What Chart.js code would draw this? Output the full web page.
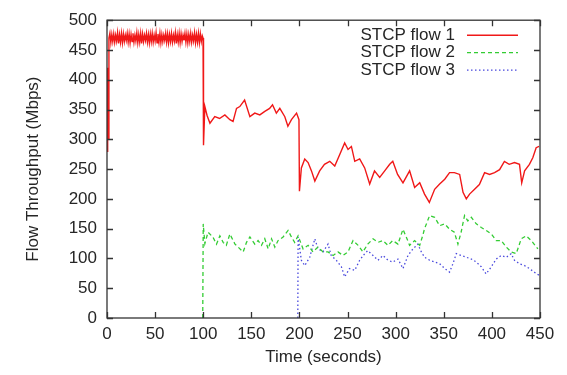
<!DOCTYPE html>
<html>
<head>
<meta charset="utf-8">
<script src="https://cdn.jsdelivr.net/npm/chart.js@4.4.1/dist/chart.umd.min.js"></script>
<style>
  html, body { margin: 0; padding: 0; background: #fff; }
  #wrap { width: 567px; height: 375px; }
</style>
</head>
<body>
<div id="wrap"><canvas id="grafico" width="567" height="375"></canvas></div>
<script>
'use strict';

// Ejes
const TIEMPO_MIN = 0, TIEMPO_MAX = 450, TIEMPO_PASO = 50;
const MBPS_MIN = 0, MBPS_MAX = 500, MBPS_PASO = 50;

const ETIQUETAS = ['STCP flow 1', 'STCP flow 2', 'STCP flow 3'];

// Flujo 1 (rojo): arranque, meseta oscilante (3..99 s) y resto
const flujo1Tiempo = [
    0, 0.7, 1.2, 2,
    3, 4, 5, 6, 7, 8, 9, 10, 11, 12, 13, 14, 15, 16, 17, 18, 19, 20, 21, 22, 23, 24, 25, 26, 27, 28,
    29, 30, 31, 32, 33, 34, 35, 36, 37, 38, 39, 40, 41, 42, 43, 44, 45, 46, 47, 48, 49, 50, 51, 52,
    53, 54, 55, 56, 57, 58, 59, 60, 61, 62, 63, 64, 65, 66, 67, 68, 69, 70, 71, 72, 73, 74, 75, 76,
    77, 78, 79, 80, 81, 82, 83, 84, 85, 86, 87, 88, 89, 90, 91, 92, 93, 94, 95, 96, 97, 98, 99,
    99.8, 100.3, 101.7, 104, 107, 112, 117, 122.5, 127.7, 131, 134.6, 138, 143, 148.5, 153.6, 158.8,
    164, 169, 172, 176, 179.6, 184.8, 188, 191.7, 197, 199.5, 200, 202, 205.5, 209, 212.5, 216, 221,
    226, 231.5, 236.7, 242, 247, 250.5, 254, 257.5, 262.6, 267.8, 273, 278, 283.4, 288.6, 293.8, 297,
    302, 307.6, 314.5, 319.7, 325, 330, 335, 340.5, 345.7, 351, 356, 361, 366.5, 370, 373.4, 376.8,
    382, 387, 392.4, 397.6, 402.8, 408, 413, 418, 423.5, 428.7, 431, 434, 439, 442.5, 446, 449
];
const flujo1Mbps = [
    280, 420, 300, 470,
    478, 462, 476, 464, 477, 463, 475, 465, 479, 461,
    476, 463, 478, 462, 477, 464, 475, 466, 478, 463,
    477, 462, 476, 464, 478, 463, 475, 465, 479, 462,
    476, 463, 478, 461, 477, 464, 475, 466, 478, 463,
    476, 462, 477, 464, 478, 463, 475, 465, 479, 462,
    477, 463, 478, 462, 476, 464, 475, 466, 478, 463,
    477, 462, 476, 464, 478, 463, 475, 465, 479, 461,
    476, 463, 478, 462, 477, 464, 475, 466, 478, 463,
    477, 462, 476, 464, 478, 463, 475, 465, 479, 462,
    476, 463, 478, 462, 477, 464, 474,
    470, 290, 355, 340, 327, 338, 335, 341, 333, 330, 352, 355, 366, 338, 344, 341,
    347, 352, 358, 344, 352, 338, 322, 333, 344, 333, 213, 252, 267, 261, 247, 230, 247,
    258, 263, 255, 275, 294, 283, 288, 263, 267, 252, 225, 247, 236, 247, 258, 263,
    241, 227, 247, 219, 227, 208, 194, 216, 225, 233, 244, 244, 241, 211, 200, 208,
    216, 224, 244, 241, 244, 249, 263, 258, 261, 258, 227, 247, 258, 269, 286, 288
];

// Flujo 2 (verde)
const flujo2Tiempo = [
    99.5, 100, 101.7, 105, 110, 113.8, 117.3, 120.7, 124, 127.7, 133, 136.3, 141.5, 145, 148.5,
    153.6, 157, 160.6, 164, 167.5, 171, 174.4, 177.8, 183, 188.2, 191.7, 195, 198.6, 203.8, 209,
    214, 219.3, 224.5, 229.7, 235, 240, 245.3, 250.5, 255.7, 261, 266, 271, 276.5, 281.6, 286.8,
    292, 297, 302.4, 307.6, 311, 314.5, 319.7, 325, 328.4, 330, 335.3, 340.5, 345.7, 351, 356,
    361, 364.7, 368, 371.6, 375, 378.6, 383.8, 389, 394, 399.4, 404.5, 409.7, 415, 420, 425.3,
    430.5, 435.7, 440.9, 447.8
];
const flujo2Mbps = [
    0, 158, 125, 144, 136, 124, 138, 127, 122, 141, 124, 119, 111, 127, 136,
    124, 130, 122, 133, 116, 133, 119, 130, 136, 147, 136, 127, 138, 116, 122,
    111, 119, 111, 111, 105, 111, 105, 111, 130, 122, 111, 124, 133, 127, 130,
    122, 130, 124, 149, 136, 122, 130, 122, 140, 150, 172, 169, 155, 158, 149,
    144, 124, 144, 172, 163, 169, 158, 152, 147, 141, 130, 130, 119, 111, 108,
    133, 138, 130, 116
];

// Flujo 3 (azul)
const flujo3Tiempo = [
    198.3, 198.6, 202, 205.5, 210.7, 216, 219.3, 224.5, 229.7, 233, 238.3, 243.6, 247, 252, 257.5,
    262.6, 267.8, 271, 276.5, 281.6, 286.8, 292, 297, 302.4, 307.6, 312.8, 318, 323, 326.7, 330,
    335.3, 340.5, 345.7, 351, 356, 359.5, 363, 368, 373.4, 378.6, 383.8, 389, 394, 399.4, 404.5,
    409.7, 415, 420, 423.5, 428.7, 434, 439, 444, 448.8
];
const flujo3Mbps = [
    0, 136, 97, 88, 102, 133, 116, 111, 124, 105, 97, 86, 69, 83, 80,
    97, 108, 113, 105, 97, 105, 97, 94, 99, 83, 105, 116, 124, 111, 102,
    97, 94, 91, 83, 77, 91, 108, 105, 102, 99, 94, 86, 74, 86, 99,
    105, 102, 108, 97, 91, 88, 83, 77, 72
];

const COLOR_TEXTO = '#262626';
const COLOR_MARCO = '#333333';
const FUENTE = { family: '"Liberation Sans", Arial, sans-serif', size: 17 };

function puntos(tiempos, valores) {
    return tiempos.map((t, i) => ({ x: t, y: valores[i] }));
}

// Marco con marcas hacia adentro en los cuatro lados (estilo gnuplot)
const marcoPlugin = {
    id: 'marco',
    afterDatasetsDraw(chart) {
        const { ctx, chartArea: a, scales } = chart;
        const largo = 6;
        ctx.save();
        ctx.strokeStyle = COLOR_MARCO;
        ctx.lineWidth = 1.3;
        ctx.strokeRect(a.left, a.top, a.right - a.left, a.bottom - a.top);
        ctx.beginPath();
        scales.y.ticks.forEach(tk => {
            const y = Math.round(scales.y.getPixelForValue(tk.value)) + 0.5;
            ctx.moveTo(a.left, y); ctx.lineTo(a.left + largo, y);
            ctx.moveTo(a.right, y); ctx.lineTo(a.right - largo, y);
        });
        scales.x.ticks.forEach(tk => {
            const x = Math.round(scales.x.getPixelForValue(tk.value)) + 0.5;
            ctx.moveTo(x, a.bottom); ctx.lineTo(x, a.bottom - largo);
            ctx.moveTo(x, a.top); ctx.lineTo(x, a.top + largo);
        });
        ctx.stroke();
        ctx.restore();
    }
};

// Leyenda dentro del area: texto alineado a la derecha y muestra de linea a su derecha
const leyendaPlugin = {
    id: 'leyendaInterna',
    afterDraw(chart) {
        const { ctx, chartArea: a } = chart;
        const xTexto = a.right - 85;
        const x0 = a.right - 73, x1 = a.right - 22;
        ctx.save();
        ctx.font = `${FUENTE.size}px ${FUENTE.family}`;
        ctx.textAlign = 'right';
        ctx.textBaseline = 'middle';
        chart.data.datasets.forEach((ds, i) => {
            const y = a.top + 15 + i * 17.5;
            ctx.fillStyle = COLOR_TEXTO;
            ctx.fillText(ds.label, xTexto, y);
            ctx.strokeStyle = ds.borderColor;
            ctx.lineWidth = ds.borderWidth;
            ctx.setLineDash(ds.borderDash || []);
            ctx.beginPath();
            ctx.moveTo(x0, y); ctx.lineTo(x1, y);
            ctx.stroke();
        });
        ctx.restore();
    }
};

new Chart(document.getElementById('grafico'), {
    type: 'line',
    data: {
        datasets: [
            {
                label: ETIQUETAS[0],
                data: puntos(flujo1Tiempo, flujo1Mbps),
                borderColor: '#f01818',
                borderWidth: 1.4,
                pointRadius: 0,
                tension: 0
            },
            {
                label: ETIQUETAS[1],
                data: puntos(flujo2Tiempo, flujo2Mbps),
                borderColor: '#33cc33',
                borderWidth: 1.3,
                borderDash: [4, 3],
                pointRadius: 0,
                tension: 0
            },
            {
                label: ETIQUETAS[2],
                data: puntos(flujo3Tiempo, flujo3Mbps),
                borderColor: '#4848dd',
                borderWidth: 1.3,
                borderDash: [1.5, 2.5],
                pointRadius: 0,
                tension: 0
            }
        ]
    },
    options: {
        responsive: false,
        animation: false,
        events: [],
        layout: { padding: { top: 18, right: 27, left: 0, bottom: 0 } },
        plugins: {
            legend: { display: false },
            tooltip: { enabled: false }
        },
        scales: {
            x: {
                type: 'linear',
                min: TIEMPO_MIN,
                max: TIEMPO_MAX,
                ticks: { stepSize: TIEMPO_PASO, color: COLOR_TEXTO, font: FUENTE, padding: 6, maxRotation: 0 },
                grid: { display: false, drawTicks: false },
                border: { display: false },
                title: { display: true, text: 'Time (seconds)', color: COLOR_TEXTO, font: FUENTE, padding: { top: 0, bottom: 7 } },
                afterFit(escala) { escala.height = 57; }
            },
            y: {
                min: MBPS_MIN,
                max: MBPS_MAX,
                ticks: { stepSize: MBPS_PASO, color: COLOR_TEXTO, font: FUENTE, padding: 10 },
                grid: { display: false, drawTicks: false },
                border: { display: false },
                title: { display: true, text: 'Flow Throughput (Mbps)', color: COLOR_TEXTO, font: FUENTE, padding: { top: 23, bottom: 0 } },
                afterFit(escala) { escala.width = 107; }
            }
        }
    },
    plugins: [marcoPlugin, leyendaPlugin]
});
</script>
</body>
</html>
